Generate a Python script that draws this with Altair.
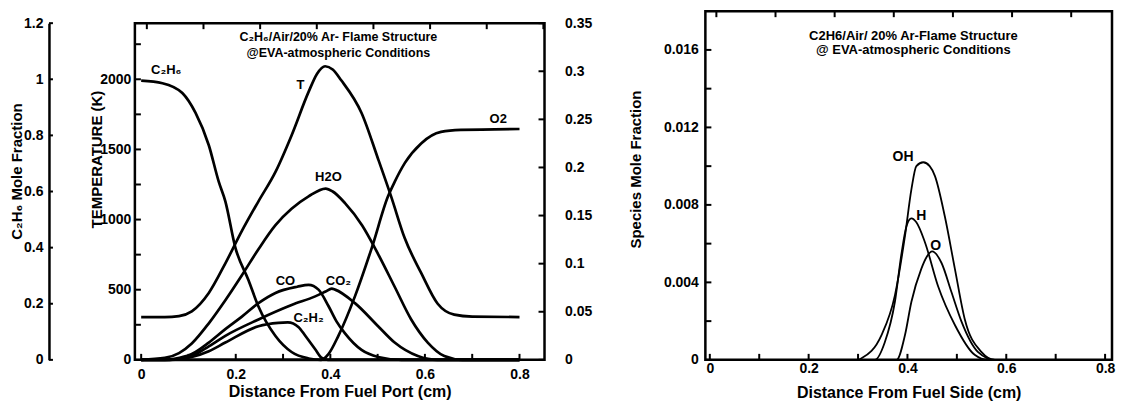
import altair as alt
import pandas as pd

FONT = "Liberation Sans"

# ---------------- Left panel data ----------------
# Temperature (K)
t_x = [0, 0.05, 0.08, 0.107, 0.143, 0.178, 0.213, 0.248, 0.284, 0.318, 0.354, 0.372,
       0.389, 0.405, 0.423, 0.466, 0.501, 0.529, 0.557, 0.592, 0.627, 0.662, 0.70, 0.8]
t_val = [305, 305, 312, 346, 477, 688, 919, 1130, 1340, 1600, 1910, 2040,
         2093, 2070, 1993, 1760, 1432, 1160, 870, 620, 400, 322, 308, 305]

# C2H6 mole fraction (outer left axis)
c2h6_x = [0, 0.045, 0.087, 0.115, 0.143, 0.164, 0.178, 0.199, 0.227, 0.248, 0.284,
          0.318, 0.354, 0.38, 0.8]
c2h6_val = [0.995, 0.986, 0.951, 0.88, 0.765, 0.635, 0.565, 0.401, 0.284, 0.19, 0.085,
            0.028, 0.005, 0, 0]

# Species mole fractions (right axis)
h2o_x = [0, 0.05, 0.08, 0.107, 0.143, 0.178, 0.213, 0.248, 0.284, 0.318, 0.354, 0.39,
         0.405, 0.431, 0.467, 0.501, 0.536, 0.571, 0.606, 0.641, 0.68, 0.8]
h2o_val = [0, 0.002, 0.007, 0.017, 0.038, 0.062, 0.088, 0.115, 0.140, 0.157, 0.170, 0.178,
           0.175, 0.163, 0.140, 0.110, 0.076, 0.042, 0.018, 0.004, 0, 0]

o2_x = [0, 0.38, 0.396, 0.417, 0.452, 0.488, 0.522, 0.536, 0.558, 0.592, 0.634, 0.676, 0.8]
o2_val = [0, 0, 0.006, 0.025, 0.066, 0.117, 0.170, 0.185, 0.205, 0.225, 0.237, 0.239, 0.24]

co_x = [0, 0.05, 0.07, 0.107, 0.143, 0.178, 0.213, 0.248, 0.284, 0.33, 0.354, 0.375,
        0.396, 0.413, 0.431, 0.466, 0.501, 0.55, 0.8]
co_val = [0, 0, 0.001, 0.006, 0.018, 0.032, 0.045, 0.059, 0.0696, 0.076, 0.078, 0.073,
          0.056, 0.040, 0.0275, 0.0103, 0.003, 0, 0]

co2_x = [0, 0.06, 0.107, 0.143, 0.178, 0.248, 0.318, 0.368, 0.39, 0.403, 0.41, 0.452,
         0.501, 0.536, 0.585, 0.627, 0.8]
co2_val = [0, 0, 0.004, 0.014, 0.025, 0.042, 0.057, 0.066, 0.071, 0.074, 0.073, 0.059,
           0.035, 0.018, 0.004, 0, 0]

c2h2_x = [0, 0.06, 0.107, 0.143, 0.178, 0.248, 0.29, 0.31, 0.333, 0.347, 0.368, 0.382,
          0.395, 0.8]
c2h2_val = [0, 0, 0.003, 0.009, 0.018, 0.035, 0.0385, 0.039, 0.034, 0.025, 0.011, 0.002,
            0, 0]

# ---------------- Right panel data ----------------
oh_x = [0, 0.30, 0.307, 0.3475, 0.3746, 0.395, 0.408, 0.418, 0.432, 0.445, 0.4555,
        0.4757, 0.496, 0.516, 0.55, 0.577, 0.81]
oh_val = [0, 0, 0.00008, 0.00128, 0.00333, 0.0064, 0.0088, 0.0100, 0.0102, 0.0100, 0.0095,
          0.0074, 0.0047, 0.0021, 0.0004, 0, 0]

h_x = [0, 0.334, 0.354, 0.3746, 0.388, 0.398, 0.408, 0.418, 0.435, 0.462, 0.496, 0.536,
       0.563, 0.81]
h_val = [0, 0, 0.0009, 0.0030, 0.0055, 0.0069, 0.0073, 0.0071, 0.0061, 0.0038, 0.0018,
         0.00026, 0, 0]

o_x = [0, 0.378, 0.395, 0.408, 0.428, 0.4385, 0.450, 0.469, 0.489, 0.509, 0.543, 0.577, 0.81]
o_val = [0, 0, 0.00128, 0.0030, 0.0047, 0.0053, 0.0056, 0.0050, 0.0035, 0.0020, 0.0004, 0, 0]

# ---------------- Labels ----------------
left_title = ["C\u2082H\u2086/Air/20% Ar- Flame Structure", "@EVA-atmospheric Conditions"]
left_title_x = [0.417, 0.417]
left_title_t = [2300, 2188]

t_lab_text = ["C\u2082H\u2086", "T"]
t_lab_x = [0.053, 0.337]
t_lab_t = [2068, 1962]

s_lab_text = ["H2O", "O2", "CO", "CO\u2082", "C\u2082H\u2082"]
s_lab_x = [0.396, 0.755, 0.305, 0.417, 0.354]
s_lab_s = [0.190, 0.250, 0.082, 0.082, 0.043]

right_title = ["C2H6/Air/ 20% Ar-Flame Structure", "@ EVA-atmospheric Conditions"]
right_title_x = [0.412, 0.412]
right_title_s = [0.01673, 0.01597]

r_lab_text = ["OH", "H", "O"]
r_lab_x = [0.391, 0.428, 0.457]
r_lab_s = [0.01047, 0.00743, 0.0059]

# ---------------- Axis values ----------------
left_x_labels = [0, 0.2, 0.4, 0.6, 0.8]
x_minor = [0, 0.1, 0.2, 0.3, 0.4, 0.5, 0.6, 0.7, 0.8]
left_top_idx = [0, 1, 2, 3, 4, 5, 6, 7]
right_top_idx = [0, 1, 2, 3, 4, 5, 6]
temp_labels = [0, 500, 1000, 1500, 2000]
temp_ticks = [0, 250, 500, 750, 1000, 1250, 1500, 1750, 2000, 2250]
c2h6_labels = [0, 0.2, 0.4, 0.6, 0.8, 1, 1.2]
species_labels = [0, 0.05, 0.1, 0.15, 0.2, 0.25, 0.3, 0.35]
right_y_labels = [0, 0.004, 0.008, 0.012, 0.016]
right_y_ticks = [0, 0.002, 0.004, 0.006, 0.008, 0.01, 0.012, 0.014, 0.016]

# ---------------- Geometry ----------------
LW, LH = 410, 337
RW, RH = 407, 349
LX = [-0.0133, 0.8529]
RX = [-0.009, 0.814]
LTOP = [-0.211, 7.02]
RTOP = [-0.186, 6.69]
T_DOM = [0, 2400]
C_DOM = [0, 1.2]
S_DOM = [0, 0.35]
R_DOM = [0, 0.018]


def xq(field, dom, axis=None):
    return alt.X(f"{field}:Q", scale=alt.Scale(domain=dom, nice=False, zero=False), axis=axis)


def yq(field, dom, axis=None):
    return alt.Y(f"{field}:Q", scale=alt.Scale(domain=dom, nice=False, zero=False), axis=axis)


def long_df(pairs, valname):
    rows = []
    for name, xs, vs in pairs:
        for a, b in zip(xs, vs):
            rows.append({"x": a, valname: b, "species": name})
    return pd.DataFrame(rows)


# ---------------- Left panel ----------------
df_T = pd.DataFrame({"x": t_x, "T": t_val})
df_C = pd.DataFrame({"x": c2h6_x, "c": c2h6_val})
df_S = long_df([("H2O", h2o_x, h2o_val), ("O2", o2_x, o2_val), ("CO", co_x, co_val),
                ("CO2", co2_x, co2_val), ("C2H2", c2h2_x, c2h2_val)], "s")

left_x_axis = alt.Axis(values=left_x_labels, format="~g", title="Distance From Fuel Port (cm)",
                       labelPadding=8, titleY=32, titleBaseline="middle", titleFontSize=16)
temp_axis = alt.Axis(orient="left", values=temp_labels, format="d", title="TEMPERATURE (K)",
                     labelPadding=4, titleX=-38, titleY=136, titleBaseline="middle",
                     titleAngle=-90)
c2h6_axis = alt.Axis(orient="left", values=c2h6_labels, format="~g", offset=86, domain=True,
                     domainWidth=2.5, domainColor="black", labelPadding=6,
                     title="C\u2082H\u2086  Mole Fraction", titleX=-32, titleY=148,
                     titleBaseline="middle", titleAngle=-90)
species_axis = alt.Axis(orient="right", values=species_labels, format="~g", labelPadding=20,
                        labelAlign="left", title="")

line_kw = dict(color="black", strokeWidth=2.7, interpolate="monotone")

l_T = alt.Chart(df_T).mark_line(**line_kw).encode(
    x=xq("x", LX, left_x_axis), y=yq("T", T_DOM, temp_axis))
l_C = alt.Chart(df_C).mark_line(**line_kw).encode(
    x=xq("x", LX), y=yq("c", C_DOM, c2h6_axis))
l_S = alt.Chart(df_S).mark_line(**line_kw).encode(
    x=xq("x", LX), y=yq("s", S_DOM, species_axis), detail="species:N")

txt_kw = dict(font=FONT, fontWeight="bold", color="black", align="center", baseline="middle")

l_title = alt.Chart(pd.DataFrame({"x": left_title_x, "T": left_title_t, "t": left_title})).mark_text(
    fontSize=12.5, **txt_kw).encode(x=xq("x", LX), y=yq("T", T_DOM), text="t:N")
l_tlab = alt.Chart(pd.DataFrame({"x": t_lab_x, "T": t_lab_t, "t": t_lab_text})).mark_text(
    fontSize=13, **txt_kw).encode(x=xq("x", LX), y=yq("T", T_DOM), text="t:N")
l_slab = alt.Chart(pd.DataFrame({"x": s_lab_x, "s": s_lab_s, "t": s_lab_text})).mark_text(
    fontSize=13, **txt_kw).encode(x=xq("x", LX), y=yq("s", S_DOM), text="t:N")

rule_kw = dict(color="black", strokeWidth=2)
l_bt = alt.Chart(pd.DataFrame({"v": x_minor})).mark_rule(**rule_kw).encode(
    x=xq("v", LX), y=alt.value(LH), y2=alt.value(LH - 6))
l_tt = alt.Chart(pd.DataFrame({"v": left_top_idx})).mark_rule(**rule_kw).encode(
    x=xq("v", LTOP), y=alt.value(0), y2=alt.value(6))
l_lt = alt.Chart(pd.DataFrame({"v": temp_ticks})).mark_rule(**rule_kw).encode(
    y=yq("v", T_DOM), x=alt.value(0), x2=alt.value(6))
l_rt = alt.Chart(pd.DataFrame({"v": species_labels})).mark_rule(**rule_kw).encode(
    y=yq("v", S_DOM), x=alt.value(LW), x2=alt.value(LW - 6))
l_ct = alt.Chart(pd.DataFrame({"v": c2h6_labels})).mark_rule(**rule_kw).encode(
    y=yq("v", C_DOM), x=alt.value(-86), x2=alt.value(-82))

left_plot = alt.layer(l_T, l_C, l_S, l_title, l_tlab, l_slab, l_bt, l_tt, l_lt, l_rt, l_ct).resolve_scale(
    x="independent", y="independent").properties(width=LW, height=LH)

# empty strip that lowers the left panel relative to the right one
spacer = alt.Chart(pd.DataFrame({"v": [0]})).mark_point(opacity=0, size=0).encode(
    x=alt.value(0), y=alt.value(0)).properties(
    width=LW, height=1, view=alt.ViewBackground(stroke="transparent"))

left = alt.vconcat(spacer, left_plot, spacing=0)

# ---------------- Right panel ----------------
df_R = long_df([("OH", oh_x, oh_val), ("H", h_x, h_val), ("O", o_x, o_val)], "s")

right_x_axis = alt.Axis(values=left_x_labels, format="~g", title="Distance From Fuel Side (cm)",
                        labelPadding=2, titleY=33, titleBaseline="middle", titleFontSize=16)
right_y_axis = alt.Axis(orient="left", values=right_y_labels, format="~g", labelPadding=7,
                        title="Species Mole Fraction", titleX=-70, titleY=158,
                        titleBaseline="middle", titleAngle=-90)

r_lines = alt.Chart(df_R).mark_line(color="black", strokeWidth=1.8, interpolate="monotone").encode(
    x=xq("x", RX, right_x_axis), y=yq("s", R_DOM, right_y_axis), detail="species:N")
r_title = alt.Chart(pd.DataFrame({"x": right_title_x, "s": right_title_s, "t": right_title})).mark_text(
    fontSize=13, **txt_kw).encode(x=xq("x", RX), y=yq("s", R_DOM), text="t:N")
r_lab = alt.Chart(pd.DataFrame({"x": r_lab_x, "s": r_lab_s, "t": r_lab_text})).mark_text(
    fontSize=14, **txt_kw).encode(x=xq("x", RX), y=yq("s", R_DOM), text="t:N")
r_bt = alt.Chart(pd.DataFrame({"v": x_minor})).mark_rule(**rule_kw).encode(
    x=xq("v", RX), y=alt.value(RH), y2=alt.value(RH - 6))
r_tt = alt.Chart(pd.DataFrame({"v": right_top_idx})).mark_rule(**rule_kw).encode(
    x=xq("v", RTOP), y=alt.value(0), y2=alt.value(6))
r_lt = alt.Chart(pd.DataFrame({"v": right_y_ticks})).mark_rule(**rule_kw).encode(
    y=yq("v", R_DOM), x=alt.value(0), x2=alt.value(6))

right = alt.layer(r_lines, r_title, r_lab, r_bt, r_tt, r_lt).resolve_scale(
    x="independent", y="independent").properties(width=RW, height=RH)

chart = alt.hconcat(left, right, spacing=33).properties(
    padding={"left": 0, "top": 0, "right": 0, "bottom": 0}
).configure_view(stroke="black", strokeWidth=2.5).configure_axis(
    labelFont=FONT, labelFontWeight="bold", labelFontSize=14, labelColor="black",
    titleFont=FONT, titleFontWeight="bold", titleFontSize=15, titleColor="black",
    grid=False, ticks=False, domain=False
).configure_title(font=FONT)

chart.save("out.html", embed_options={"renderer": "svg", "actions": False})
